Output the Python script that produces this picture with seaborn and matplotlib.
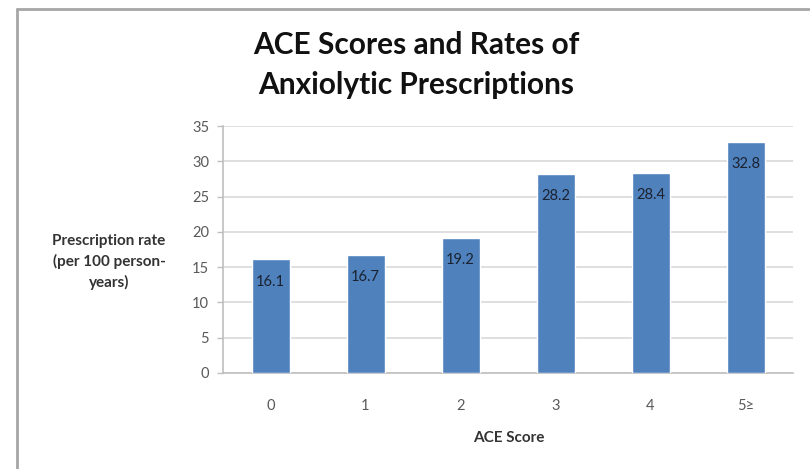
import matplotlib
matplotlib.use("Agg")
import matplotlib.pyplot as plt
from matplotlib.lines import Line2D
import seaborn as sns
import pandas as pd

# ACE score categories and anxiolytic prescription rates (per 100 person-years)
scores = ["0", "1", "2", "3", "4", "5\u2265"]
rates = [16.1, 16.7, 19.2, 28.2, 28.4, 32.8]
y_ticks = [0, 5, 10, 15, 20, 25, 30, 35]

sns.set_theme(style="white")
plt.rcParams["font.family"] = ["Lato", "DejaVu Sans"]

df = pd.DataFrame({"score": scores, "rate": rates})

W, H = 810, 469
fig = plt.figure(figsize=(W / 100, H / 100), dpi=100)
ax = fig.add_axes([223 / W, 1 - 373 / H, (793 - 223) / W, (373 - 126) / H])

sns.barplot(data=df, x="score", y="rate", color="#4F81BD", saturation=1,
            width=0.4, ax=ax, zorder=3)

ax.set_ylim(0, 35)
ax.set_xlim(-0.5, len(scores) - 0.5)
ax.set_yticks(y_ticks)
ax.yaxis.grid(True, color="#D9D9D9", linewidth=1.2, zorder=0)
ax.set_axisbelow(True)

for side in ("top", "right"):
    ax.spines[side].set_visible(False)
for side in ("left", "bottom"):
    ax.spines[side].set_color("#BFBFBF")
    ax.spines[side].set_linewidth(1.2)

ax.tick_params(axis="y", which="both", left=True, length=4, width=1.0,
               color="#BFBFBF", labelsize=10.5, labelcolor="#595959", pad=6)
ax.tick_params(axis="x", which="both", bottom=False, labelsize=10.5,
               labelcolor="#595959", pad=13)

# value labels sit just inside the top of each bar
for i, v in enumerate(rates):
    ax.annotate(f"{v}", xy=(i, v), xytext=(0, -16), textcoords="offset points",
                ha="center", va="center", fontsize=10.5, color="#1A2230")

ax.set_xlabel("")
ax.set_ylabel("")
fig.text(509 / W, 1 - 438 / H, "ACE Score", ha="center", va="center",
         fontsize=11, fontweight="bold", color="#333333")
fig.text(109 / W, 1 - 262 / H, "Prescription rate\n(per 100 person-\nyears)",
         ha="center", va="center", fontsize=11, fontweight="bold",
         color="#333333", linespacing=1.5)
fig.text(416 / W, 1 - 65 / H, "ACE Scores and Rates of\nAnxiolytic Prescriptions",
         ha="center", va="center", fontsize=21.5, fontweight="bold",
         color="#111111", linespacing=1.55)

# outer chart frame
fx, fy = 17 / W, 1 - 9 / H
fig.add_artist(Line2D([fx, fx], [0, fy], transform=fig.transFigure,
                      color="#A6A6A6", linewidth=2))
fig.add_artist(Line2D([fx, 1], [fy, fy], transform=fig.transFigure,
                      color="#A6A6A6", linewidth=2))

fig.savefig("out.png", dpi=100)
